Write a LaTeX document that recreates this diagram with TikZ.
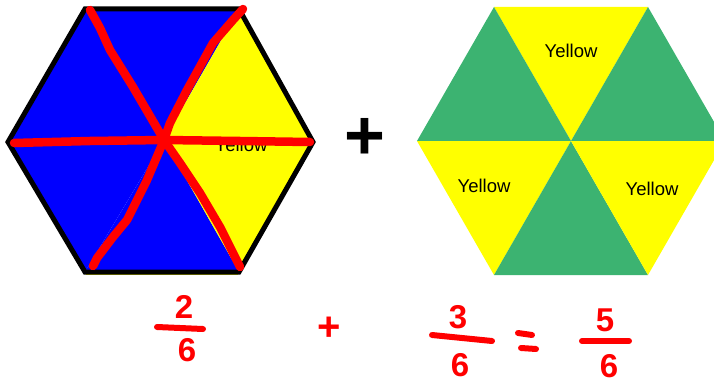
\documentclass[tikz,border=0pt]{standalone}
\usepackage{fontspec}
\setmainfont{Liberation Sans}
\definecolor{hexblue}{RGB}{0,0,255}
\definecolor{hexyellow}{RGB}{255,255,0}
\definecolor{hexgreen}{RGB}{60,179,113}
\definecolor{inkred}{RGB}{255,0,0}
\begin{document}
\begin{tikzpicture}[x=1pt,y=-1pt,
  lbl/.style={font=\fontsize{18.5}{18.5}\selectfont, text=black, inner sep=0pt},
  ink/.style={draw=inkred, line width=8.5pt, line cap=round, line join=round},
  digit/.style={font=\fontsize{33}{33}\selectfont\bfseries, text=inkred, inner sep=0pt},
  fbar/.style={draw=inkred, line width=6pt, line cap=round}]
\useasboundingbox (0,0) rectangle (714,385);
% ---------- left hexagon ----------
\coordinate (lTL) at (85,9);
\coordinate (lTR) at (239,9);
\coordinate (lL) at (8,142);
\coordinate (lR) at (313,142);
\coordinate (lBL) at (85,272);
\coordinate (lBR) at (239,272);
\coordinate (lC) at (164,140);
\draw[hexyellow, line width=2pt] (86,274) -- (238,274);
\fill[hexblue] (lTL) -- (lTR) -- (lC) -- cycle;
\fill[hexblue] (lTL) -- (lL) -- (lC) -- cycle;
\fill[hexblue] (lL) -- (lBL) -- (lC) -- cycle;
\fill[hexblue] (lBL) -- (lBR) -- (lC) -- cycle;
\fill[hexyellow] (lTR) -- (lR) -- (lC) -- cycle;
\fill[hexyellow] (lR) -- (lBR) -- (lC) -- cycle;
\node[lbl] (lY) at (241,145) {Yellow};
\draw[black, line width=5pt, line join=miter] (lTL) -- (lTR) -- (lR) -- (lBR) -- (lBL) -- (lL) -- cycle;
% red hand-drawn cuts
\draw[ink] (90,10) -- (100,28) -- (110,50) -- (133,87) -- (164,140);
\draw[ink] (243,9) -- (233,20) -- (213,43) -- (187,90) -- (170,123) -- (164,140);
\draw[ink] (14,143) -- (90,141) -- (164,140) -- (240,141) -- (310,142);
\draw[ink] (164,140) -- (147,180) -- (127,220) -- (113,237) -- (97,258) -- (93,266);
\draw[ink] (164,140) -- (180,163) -- (200,193) -- (220,227) -- (240,267);
% ---------- plus ----------
\node[font=\fontsize{70}{70}\selectfont\bfseries, inner sep=0pt] (plus) at (365,139) {+};
% ---------- right hexagon ----------
\coordinate (rTL) at (494,7);
\coordinate (rTR) at (648,7);
\coordinate (rL) at (417,141);
\coordinate (rR) at (725,141);
\coordinate (rBL) at (494,275);
\coordinate (rBR) at (648,275);
\coordinate (rC) at (571,141);
\fill[hexyellow] (rTL) -- (rTR) -- (rC) -- cycle;
\fill[hexgreen] (rTL) -- (rL) -- (rC) -- cycle;
\fill[hexgreen] (rTR) -- (rR) -- (rC) -- cycle;
\fill[hexyellow] (rL) -- (rBL) -- (rC) -- cycle;
\fill[hexgreen] (rBL) -- (rBR) -- (rC) -- cycle;
\fill[hexyellow] (rBR) -- (rR) -- (rC) -- cycle;
\node[lbl] (rY1) at (571,51) {Yellow};
\node[lbl] (rY2) at (484,186) {Yellow};
\node[lbl] (rY3) at (652,189) {Yellow};
% ---------- handwritten sum ----------
\node[digit] (n1) at (184,307) {2};
\draw[fbar] (157,327) -- (203,329);
\node[digit] (d1) at (187,350) {6};
\node[font=\fontsize{40}{40}\selectfont\bfseries, text=inkred, inner sep=0pt] (p2) at (329,329) {+};
\node[digit] (n2) at (458,317) {3};
\draw[fbar] (432,335) -- (492,341);
\node[digit] (d2) at (460,365) {6};
\draw[fbar] (518,333) -- (532,335);
\draw[fbar] (521,348) -- (536,349);
\node[digit] (n3) at (605,320) {5};
\draw[fbar] (582,341) -- (629,341);
\node[digit] (d3) at (609,366) {6};
\end{tikzpicture}
\end{document}
